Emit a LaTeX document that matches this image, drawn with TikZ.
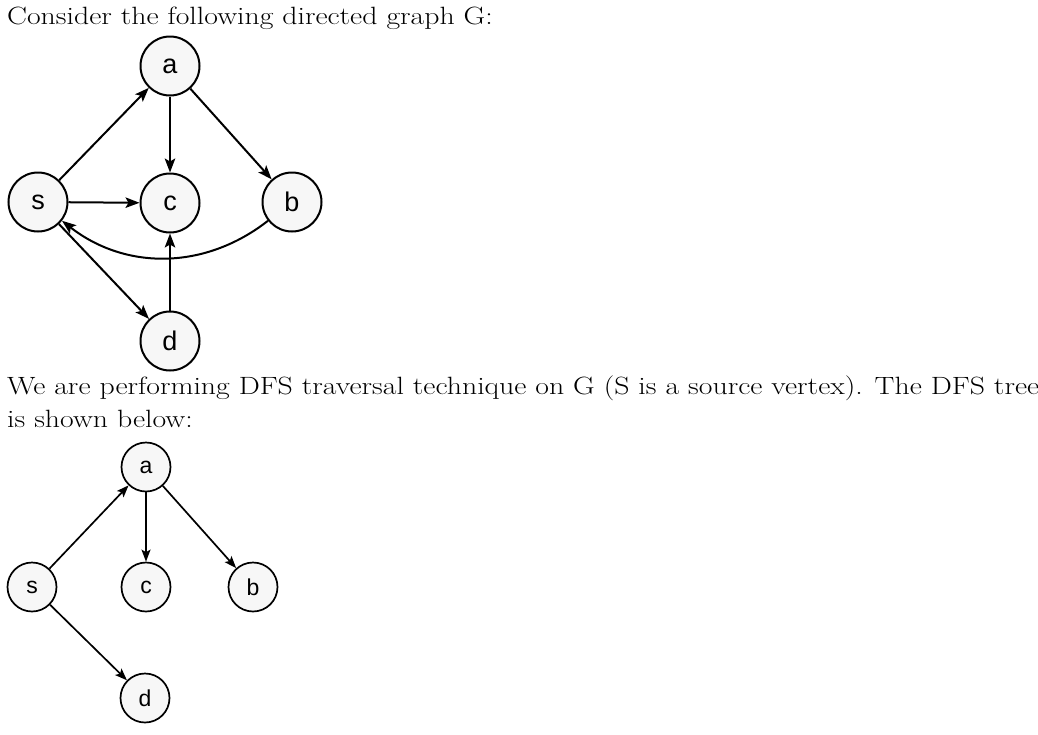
\documentclass[tikz,border=0pt]{standalone}
\usepackage{fontspec}
\setmainfont{Latin Modern Roman}[FakeStretch=1.19]
\newfontfamily\labelfont{Liberation Sans}
\usetikzlibrary{arrows.meta}
\tikzset{
  vertex/.style={draw, circle, line width=2pt, fill=black!3, minimum size=59pt,
    inner sep=0pt, font=\labelfont\fontsize{27}{27}\selectfont},
  treevertex/.style={vertex, line width=1.7pt, minimum size=49pt,
    font=\labelfont\fontsize{23}{23}\selectfont},
  edge/.style={-{Stealth[length=14pt,width=10.5pt,inset=3pt]}, line width=2pt},
  treeedge/.style={-{Stealth[length=12pt,width=9pt,inset=2.5pt]}, line width=1.7pt},
  textline/.style={anchor=base west, inner sep=0pt, font=\fontsize{25}{34}\selectfont}
}
\begin{document}
\begin{tikzpicture}[x=1pt, y=-1pt]
  \useasboundingbox (0,0) rectangle (1038,734);
  \node[textline] (intro) at (7,24) {Consider the following directed graph G:};
  \node[textline] (dfsone) at (7,394) {We are performing DFS traversal technique on G (S is a source vertex). The DFS tree};
  \node[textline] (dfstwo) at (7,427) {is shown below:};
  % graph G
  \def \Nodes{
    s/38/202,
    a/170/66,
    c/170/203,
    b/292/202,
    d/170/341}
  \def \Edges{
    s/a,
    s/c,
    a/c,
    a/b,
    d/c,
    s/d}
  \foreach \id / \x / \y in \Nodes{
    \node[vertex] (\id) at (\x, \y) {\id};
  }
  \foreach \x / \y in \Edges{
    \path[draw,edge] (\x) -- (\y);
  }
  \path[draw,edge] (b) to[bend left=38] (s);
  % DFS tree
  \def \TreeNodes{
    s/32/587,
    a/146/467,
    c/146/587,
    b/253/587,
    d/145/698}
  \def \TreeEdges{
    s/a,
    a/c,
    a/b,
    s/d}
  \foreach \id / \x / \y in \TreeNodes{
    \node[treevertex] (t\id) at (\x, \y) {\id};
  }
  \foreach \x / \y in \TreeEdges{
    \path[draw,treeedge] (t\x) -- (t\y);
  }
\end{tikzpicture}
\end{document}
